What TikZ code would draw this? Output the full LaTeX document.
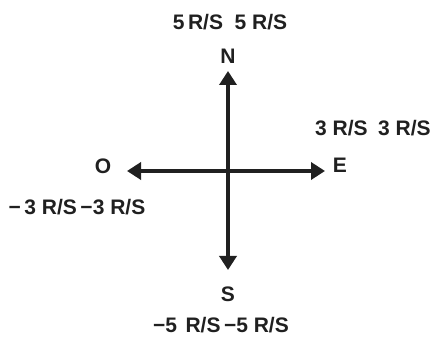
\documentclass[tikz,border=0pt]{standalone}
\usepackage{fontspec}
\setmainfont{Liberation Sans}
\usetikzlibrary{arrows.meta}
\definecolor{ink}{HTML}{202020}
\begin{document}
\begin{tikzpicture}[x=1pt,y=1pt,
  lbl/.style={font=\fontsize{21}{24}\selectfont\bfseries, text=ink, inner sep=0pt},
  axis/.style={draw=ink, line width=4.5pt, {Triangle[length=14pt,width=17pt]}-{Triangle[length=14pt,width=17pt]}}]
\useasboundingbox (0,0) rectangle (448,339);
\coordinate (ntip) at (228,268);
\coordinate (stip) at (228,69);
\coordinate (otip) at (127,168);
\coordinate (etip) at (325,168);
\draw[axis] (stip) -- (ntip);
\draw[axis] (otip) -- (etip);
\node[lbl] (N) at (228,283) {N};
\node[lbl] (S) at (228,45) {S};
\node[lbl] (E) at (340,174) {E};
\node[lbl] (O) at (103,173) {O};
\node[lbl] (top) at (230,317) {5\,R/S\hspace{0.55em}5 R/S};
\node[lbl] (right) at (373,211) {3 R/S\hspace{0.5em}3 R/S};
\node[lbl] (left) at (77,132) {−\,3 R/S\,−3 R/S};
\node[lbl] (bottom) at (221,14) {−5\hspace{0.4em}R/S\,−5 R/S};
\end{tikzpicture}
\end{document}
